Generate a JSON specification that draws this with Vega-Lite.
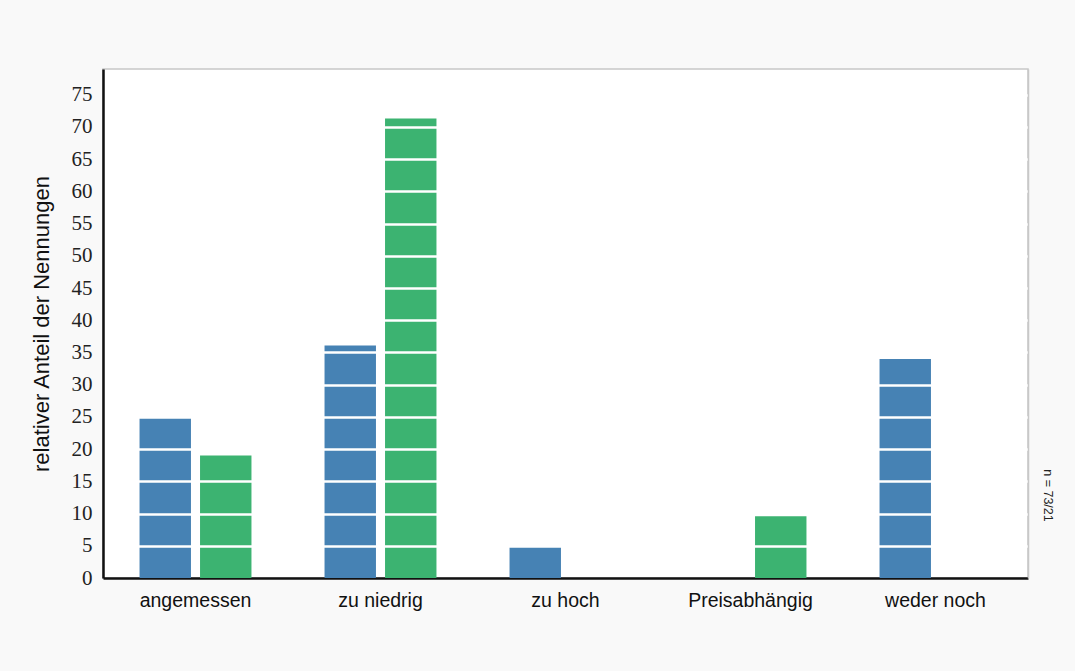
{
  "$schema": "https://vega.github.io/schema/vega-lite/v6.json",
  "width": 925,
  "height": 509,
  "autosize": {"type": "none"},
  "padding": {"left": 103, "top": 69, "right": 47, "bottom": 93},
  "background": "#f9f9f9",
  "config": {
    "view": {"fill": "#ffffff", "stroke": "#c8c8c8", "strokeWidth": 1.5}
  },
  "data": {
    "values": [
      {"Antwort": "angemessen", "Gruppe": "n = 73", "Anteil": 25.0},
      {"Antwort": "angemessen", "Gruppe": "n = 21", "Anteil": 19.0},
      {"Antwort": "zu niedrig", "Gruppe": "n = 73", "Anteil": 36.1},
      {"Antwort": "zu niedrig", "Gruppe": "n = 21", "Anteil": 71.3},
      {"Antwort": "zu hoch", "Gruppe": "n = 73", "Anteil": 4.8},
      {"Antwort": "zu hoch", "Gruppe": "n = 21", "Anteil": 0},
      {"Antwort": "Preisabhängig", "Gruppe": "n = 73", "Anteil": 0},
      {"Antwort": "Preisabhängig", "Gruppe": "n = 21", "Anteil": 9.6},
      {"Antwort": "weder noch", "Gruppe": "n = 73", "Anteil": 34.0},
      {"Antwort": "weder noch", "Gruppe": "n = 21", "Anteil": 0}
    ]
  },
  "resolve": {"axis": {"y": "independent"}},
  "layer": [
    {
      "mark": {"type": "bar"},
      "encoding": {
        "x": {
          "field": "Antwort",
          "type": "nominal",
          "sort": ["angemessen", "zu niedrig", "zu hoch", "Preisabhängig", "weder noch"],
          "scale": {"paddingInner": 0.395, "paddingOuter": 0.1975},
          "axis": {
            "title": null,
            "labelAngle": 0,
            "labelFont": "Liberation Sans",
            "labelFontSize": 19.5,
            "labelColor": "#111111",
            "labelPadding": 13,
            "ticks": false,
            "domainColor": "#111111",
            "domainWidth": 2.5
          }
        },
        "xOffset": {
          "field": "Gruppe",
          "type": "nominal",
          "sort": ["n = 73", "n = 21"],
          "scale": {"paddingInner": 0.15, "paddingOuter": 0}
        },
        "y": {
          "field": "Anteil",
          "type": "quantitative",
          "scale": {"domain": [0, 79], "nice": false, "zero": true},
          "axis": {
            "title": "relativer Anteil der Nennungen",
            "titleFont": "Liberation Sans",
            "titleFontSize": 22,
            "titleFontWeight": "normal",
            "titleColor": "#111111",
            "titlePadding": 18,
            "values": [0, 5, 10, 15, 20, 25, 30, 35, 40, 45, 50, 55, 60, 65, 70, 75],
            "labelFont": "Liberation Serif",
            "labelFontSize": 21,
            "labelColor": "#222222",
            "labelPadding": 11,
            "ticks": false,
            "domainColor": "#111111",
            "domainWidth": 2.5,
            "grid": true,
            "gridColor": "#ffffff",
            "gridWidth": 2.5,
            "gridOpacity": {"condition": {"test": "datum.value === 0", "value": 0}, "value": 1},
            "zindex": 1
          }
        },
        "color": {
          "field": "Gruppe",
          "type": "nominal",
          "sort": ["n = 73", "n = 21"],
          "scale": {"range": ["#4682b4", "#3cb371"]},
          "legend": null
        }
      }
    },
    {
      "mark": {"type": "rule", "strokeOpacity": 0},
      "encoding": {
        "y": {
          "datum": 0,
          "type": "quantitative",
          "axis": {
            "orient": "right",
            "title": "n = 73/21",
            "titleFont": "Liberation Sans",
            "titleFontSize": 12.5,
            "titleFontWeight": "normal",
            "titleColor": "#222222",
            "titleAngle": 90,
            "titleX": 19,
            "titleY": 426,
            "titleAlign": "center",
            "titleBaseline": "middle",
            "labels": false,
            "ticks": false,
            "domain": true,
            "domainColor": "#c8c8c8",
            "domainWidth": 1.5,
            "grid": false,
            "zindex": 2
          }
        }
      }
    }
  ]
}
